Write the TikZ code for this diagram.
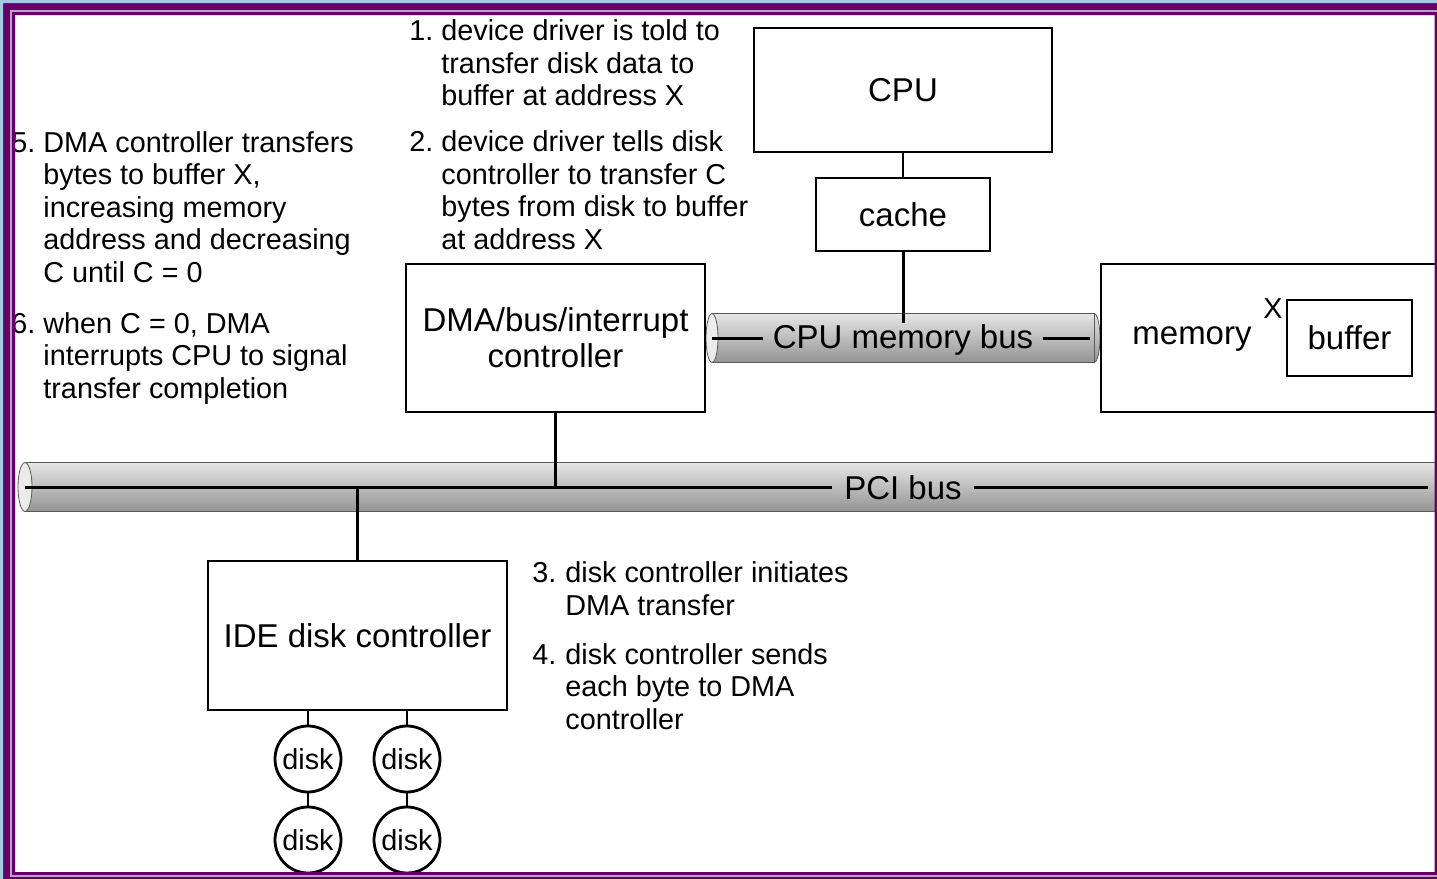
\documentclass[tikz,border=0pt]{standalone}
\usepackage{fontspec}
\setmainfont{Liberation Sans}

\definecolor{slideblue}{RGB}{168,200,232}
\definecolor{slidepurple}{RGB}{102,0,102}
\definecolor{slidelilac}{RGB}{190,160,205}

\begin{document}
\begin{tikzpicture}[x=0.5pt,y=-0.5pt,line width=1.4pt,
  box node/.style={draw,fill=white,inner sep=0pt,align=center,font=\fontsize{16.5}{18}\selectfont},
  box text/.style={inner sep=0pt,font=\fontsize{16.5}{18}\selectfont},
  disk node/.style={circle,draw,fill=white,inner sep=0pt,minimum size=33pt,font=\fontsize{14.4}{16.25}\selectfont},
  note/.style={anchor=base west,inner sep=0pt,align=left,font=\fontsize{14.4}{16.25}\selectfont},
  bus label/.style={inner xsep=4pt,inner ysep=0pt,font=\fontsize{16.5}{18}\selectfont},
  bus/.style={top color=black!10,bottom color=black!42,draw=black!65,line width=0.4pt},
  bus edge/.style={draw=black!65,line width=0.4pt},
  bus end/.style={fill=black!8,draw=black!65,line width=0.4pt}]

  \useasboundingbox (0,0) rectangle (1437,879);
  \fill[white] (0,0) rectangle (1437,879);

  % cpu memory bus
  \shadedraw[bus] (1094,338) ellipse [x radius=6,y radius=24.5];
  \shade[bus] (712,313.5) rectangle (1094,362.5);
  \draw[bus edge] (712,313.5) -- (1094,313.5) (712,362.5) -- (1094,362.5);
  \filldraw[bus end] (712,338) ellipse [x radius=6,y radius=24.5];

  % pci bus
  \shade[bus] (25,462.5) rectangle (1445,511.5);
  \draw[bus edge] (25,462.5) -- (1445,462.5) (25,511.5) -- (1445,511.5);
  \filldraw[bus end] (25,487) ellipse [x radius=7,y radius=24.5];

  \node[box node,minimum width=149pt,minimum height=62pt] (cpu) at (903,90) {CPU};
  \node[box node,minimum width=87pt,minimum height=36.5pt] (cache) at (903,214.5) {cache};
  \node[box node,minimum width=149.5pt,minimum height=74pt] (dma) at (555.5,338) {DMA/bus/interrupt\\controller};
  \node[box node,minimum width=169.5pt,minimum height=74pt] (mem) at (1270.5,338) {};
  \node[box text] (memtext) at (1192,339) {memory};
  \node[box node,minimum width=62.5pt,minimum height=38pt] (buf) at (1349.5,338) {buffer};
  \node[inner sep=0pt,font=\fontsize{14.4}{16}\selectfont] (x) at (1273,309) {X};
  \node[box node,minimum width=149.5pt,minimum height=74.5pt] (ide) at (357.5,635.5) {IDE disk controller};

  \node[disk node] (d1) at (308,759) {disk};
  \node[disk node] (d2) at (407,759) {disk};
  \node[disk node] (d3) at (308,840) {disk};
  \node[disk node] (d4) at (407,840) {disk};

  \node[bus label] (cmb) at (903,340) {CPU memory bus};
  \node[bus label,inner xsep=5.5pt] (pci) at (903,488) {PCI bus};
  \coordinate (cmbl) at (712,338);
  \coordinate (cmbr) at (1090,338);
  \coordinate (pcil) at (25,487);
  \coordinate (pcir) at (1428,487);

  % steps (text nodes sit on the baseline of their last line)
  \node[note] (n1) at (408,40.7) {1.};
  \node[note] (t1) at (440,105.7) {device driver is told to\\transfer disk data to\\buffer at address X};
  \node[note] (n2) at (408,151.7) {2.};
  \node[note] (t2) at (440,249.2) {device driver tells disk\\controller to transfer C\\bytes from disk to buffer\\at address X};
  \node[note] (n3) at (531,582.5) {3.};
  \node[note] (t3) at (564,615) {disk controller initiates\\DMA transfer};
  \node[note] (n4) at (531,664) {4.};
  \node[note] (t4) at (564,729) {disk controller sends\\each byte to DMA\\controller};
  \node[note] (n5) at (10,152) {5.};
  \node[note] (t5) at (42,282) {DMA controller transfers\\bytes to buffer X,\\increasing memory\\address and decreasing\\C until C = 0};
  \node[note] (n6) at (10,333) {6.};
  \node[note] (t6) at (42,398) {when C = 0, DMA\\interrupts CPU to signal\\transfer completion};

  \path[line width=1.5pt]
    (cmbl) edge (cmbl -| cmb.west)
    (cmbr -| cmb.east) edge (cmbr)
    (pcil) edge (pcil -| pci.west)
    (pcir -| pci.east) edge (pcir)
    (cache.south) edge (cmb.north)
    (dma.south) edge (dma.south |- pcil)
    (ide.north) edge (ide.north |- pcil);

  \path
    (cpu.south) edge (cache.north)
    (d1.north |- ide.south) edge (d1.north)
    (d2.north |- ide.south) edge (d2.north)
    (d1) edge (d3)
    (d2) edge (d4);

  % slide frame
  \fill[slidepurple,even odd rule] (-5,-5) rectangle (1445,890) (15,15) rectangle (1434.5,872);
  \fill[slideblue] (-5,-5) rectangle (1445,3) (-5,-5) rectangle (3,890);
  \draw[slidelilac,line width=1pt] (11,11) rectangle (1439,875.5);
\end{tikzpicture}
\end{document}
